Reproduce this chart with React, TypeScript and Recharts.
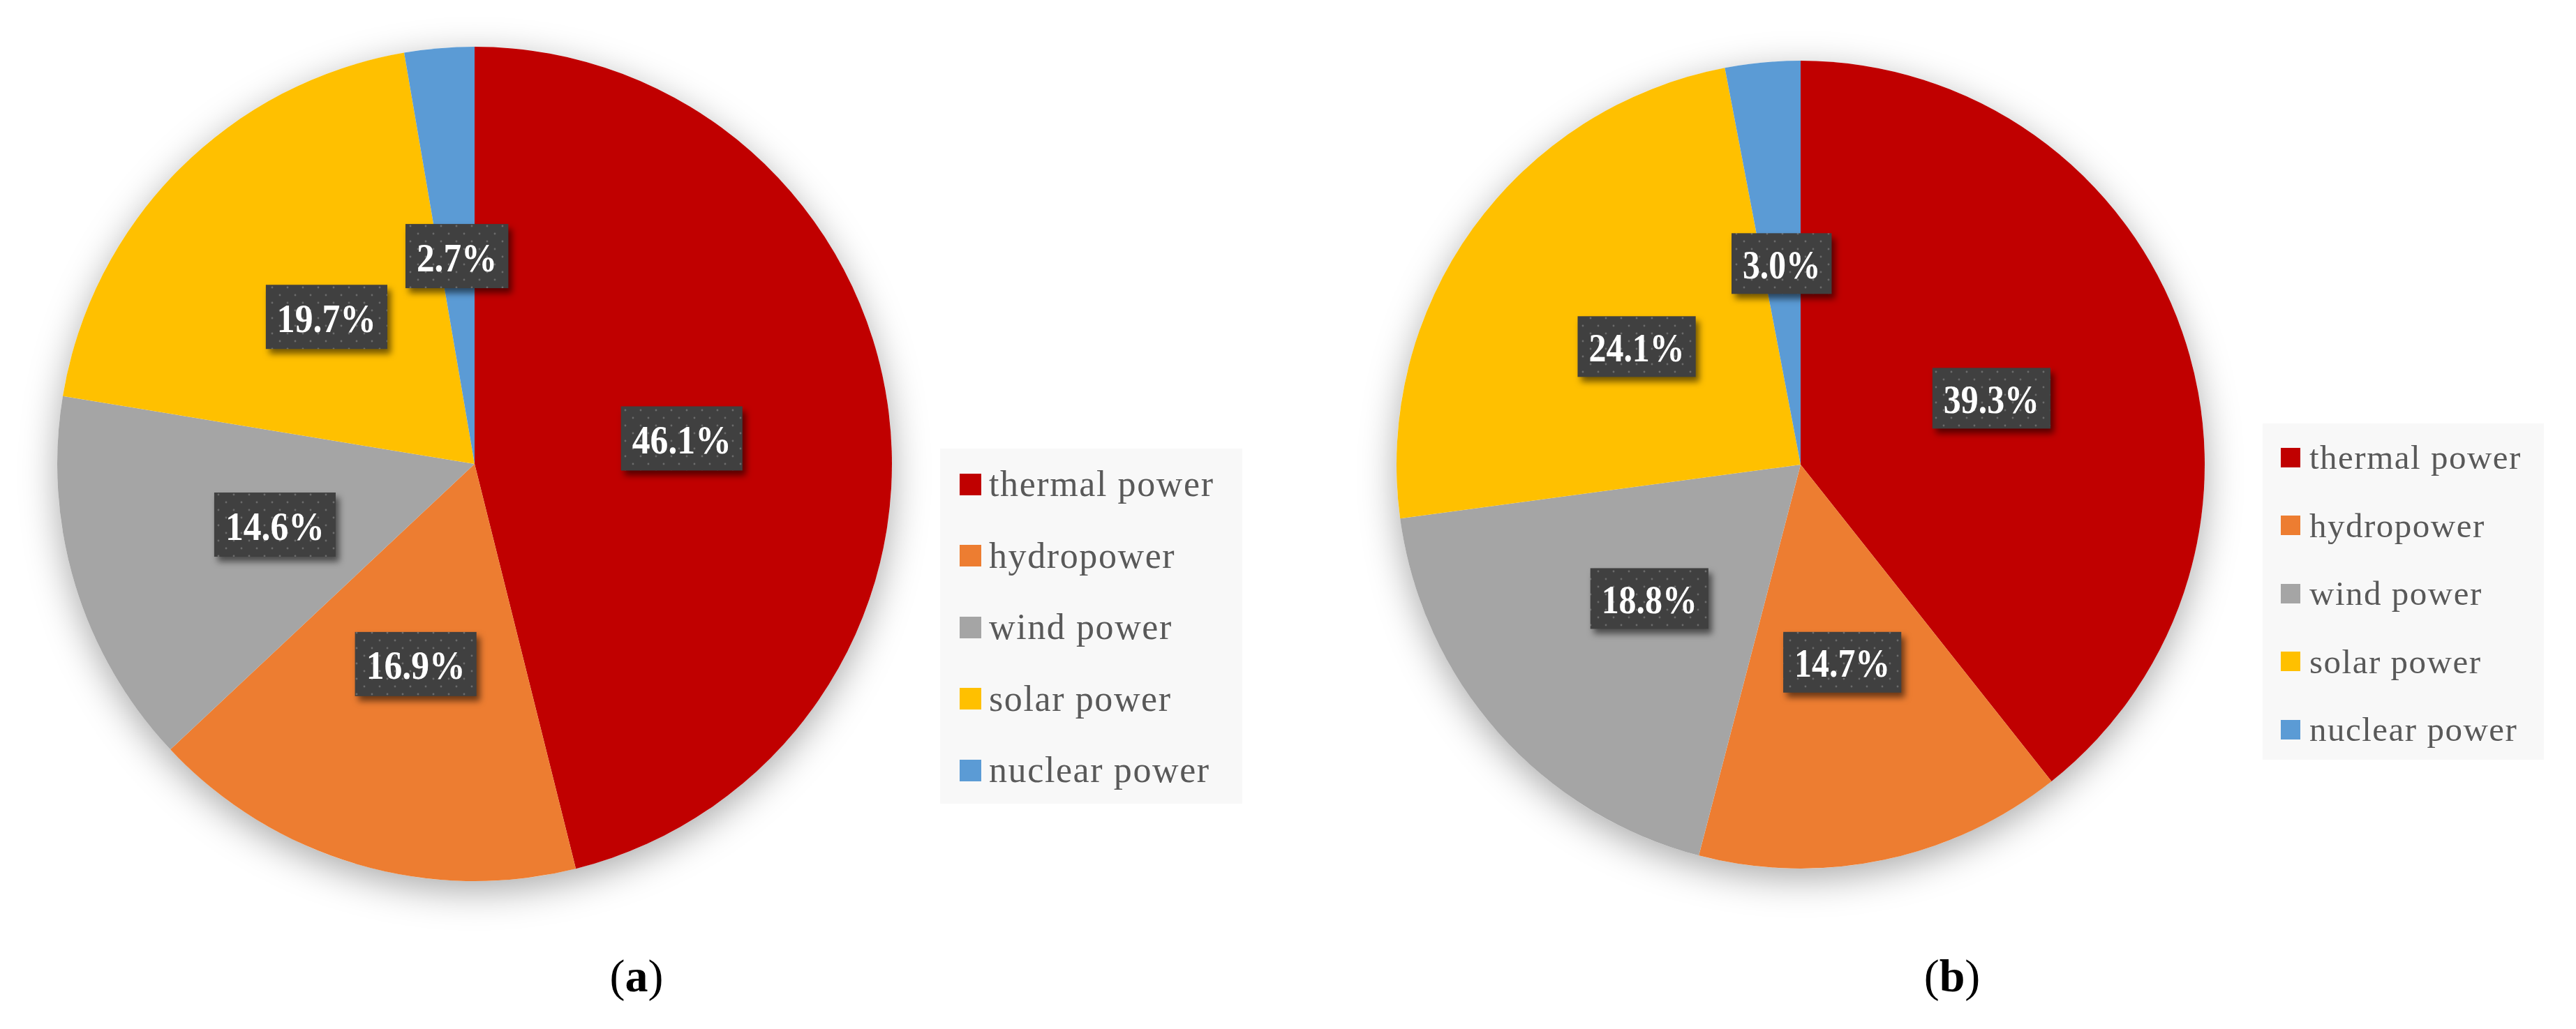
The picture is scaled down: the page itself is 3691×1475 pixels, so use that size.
import { PieChart, Pie, Cell, Legend } from 'recharts'

const sources = ['thermal power', 'hydropower', 'wind power', 'solar power', 'nuclear power']
const colors = ['#C00000', '#ED7D31', '#A5A5A5', '#FFC000', '#5B9BD5']
const shareA = [46.1, 16.9, 14.6, 19.7, 2.7]
const shareB = [39.3, 14.7, 18.8, 24.1, 3.0]
const captions = ['a', 'b']

const RAD = Math.PI / 180

// rough width of the condensed bold label text, in em
function textEm(t: string) {
  let em = 0
  for (const ch of t) em += ch === '%' ? 0.85 : ch === '.' ? 0.22 : 0.46
  return em
}

function makeLabel(fontSize: number, boxH: number) {
  return (props: any) => {
    const { cx, cy, midAngle, outerRadius, value } = props
    const r = outerRadius * 0.5
    const x = cx + r * Math.cos(-midAngle * RAD)
    const y = cy + r * Math.sin(-midAngle * RAD)
    const text = `${Number(value).toFixed(1)}%`
    const tw = textEm(text) * fontSize
    const w = tw + 32
    return (
      <g>
        <rect
          x={x - w / 2}
          y={y - boxH / 2}
          width={w}
          height={boxH}
          fill="url(#labelDots)"
          style={{ filter: 'drop-shadow(5px 7px 5px rgba(0,0,0,0.55))' }}
        />
        <text
          x={x}
          y={y + 2}
          textAnchor="middle"
          dominantBaseline="central"
          fill="#fff"
          fontFamily="'Liberation Serif', serif"
          fontWeight="bold"
          fontSize={fontSize}
          textLength={tw}
          lengthAdjust="spacingAndGlyphs"
        >
          {text}
        </text>
      </g>
    )
  }
}

function LegendBox({ width, height, fontSize, rowGap, sq, padTop, padLeft, gap, spacing }: any) {
  return (
    <div
      style={{
        width,
        height,
        background: '#f8f8f8',
        boxSizing: 'border-box',
        paddingTop: padTop,
        paddingLeft: padLeft,
      }}
    >
      {sources.map((s, i) => (
        <div key={s} style={{ display: 'flex', alignItems: 'center', height: rowGap }}>
          <span style={{ width: sq, height: sq, background: colors[i], display: 'inline-block', marginRight: gap }} />
          <span
            style={{
              fontFamily: "'Liberation Serif', serif",
              fontSize,
              color: '#595959',
              letterSpacing: spacing,
              lineHeight: 1,
            }}
          >
            {s}
          </span>
        </div>
      ))}
    </div>
  )
}

function Panel({
  values,
  left,
  width,
  cx,
  cy,
  radius,
  labelFont,
  labelH,
  legend,
}: {
  values: number[]
  left: number
  width: number
  cx: number
  cy: number
  radius: number
  labelFont: number
  labelH: number
  legend: any
}) {
  const data = sources.map((name, i) => ({ name, value: values[i] }))
  const total = values.reduce((a, b) => a + b, 0)
  return (
    <div style={{ position: 'absolute', left, top: 0 }}>
      <PieChart width={width} height={1475} margin={{ top: 0, right: 0, bottom: 0, left: 0 }}>
        <defs>
          <pattern id="labelDots" patternUnits="userSpaceOnUse" width={22} height={22}>
            <rect width={22} height={22} fill="#404040" />
            <circle cx={5} cy={5} r={1.4} fill="#6b6b6b" />
            <circle cx={16} cy={16} r={1.4} fill="#6b6b6b" />
          </pattern>
        </defs>
        {/* white disc underneath, only there to cast the soft shadow */}
        <Pie
          data={[{ name: 'total', value: total }]}
          dataKey="value"
          cx={cx}
          cy={cy}
          outerRadius={radius}
          startAngle={90}
          endAngle={-270}
          stroke="none"
          legendType="none"
          isAnimationActive={false}
        >
          <Cell fill="#ffffff" style={{ filter: 'drop-shadow(0px 14px 26px rgba(0,0,0,0.33))' }} />
        </Pie>
        <Pie
          data={data}
          dataKey="value"
          nameKey="name"
          cx={cx}
          cy={cy}
          outerRadius={radius}
          startAngle={90}
          endAngle={-270}
          stroke="none"
          labelLine={false}
          label={makeLabel(labelFont, labelH)}
          isAnimationActive={false}
        >
          {data.map((d, i) => (
            <Cell key={d.name} fill={colors[i]} />
          ))}
        </Pie>
        <Legend
          content={() => <LegendBox {...legend} />}
          wrapperStyle={{ position: 'absolute', left: legend.x, top: legend.y, width: legend.width, height: legend.height }}
        />
      </PieChart>
    </div>
  )
}

function Caption({ letter, x }: { letter: string; x: number }) {
  return (
    <div
      style={{
        position: 'absolute',
        left: x - 100,
        top: 1360,
        width: 200,
        textAlign: 'center',
        fontFamily: "'Liberation Serif', serif",
        fontSize: 66,
        lineHeight: '78px',
        color: '#000',
      }}
    >
      (<b>{letter}</b>)
    </div>
  )
}

export default function App() {
  return (
    <div style={{ position: 'relative', width: 3691, height: 1475, background: '#fff', overflow: 'hidden' }}>
      <style>{'body{margin:0}'}</style>
      <Panel
        values={shareA}
        left={0}
        width={1845}
        cx={680}
        cy={665}
        radius={598}
        labelFont={58}
        labelH={92}
        legend={{
          x: 1347, y: 643, width: 433, height: 509,
          fontSize: 52, spacing: 1.6, rowGap: 102.5, sq: 31, padTop: 0, padLeft: 28, gap: 11,
        }}
      />
      <Panel
        values={shareB}
        left={1845}
        width={1846}
        cx={735}
        cy={666}
        radius={579}
        labelFont={56}
        labelH={87}
        legend={{
          x: 3242 - 1845, y: 607, width: 403, height: 482,
          fontSize: 49, spacing: 1.5, rowGap: 97.5, sq: 28, padTop: 0, padLeft: 26, gap: 13,
        }}
      />
      <Caption letter={captions[0]} x={912} />
      <Caption letter={captions[1]} x={2797} />
    </div>
  )
}
